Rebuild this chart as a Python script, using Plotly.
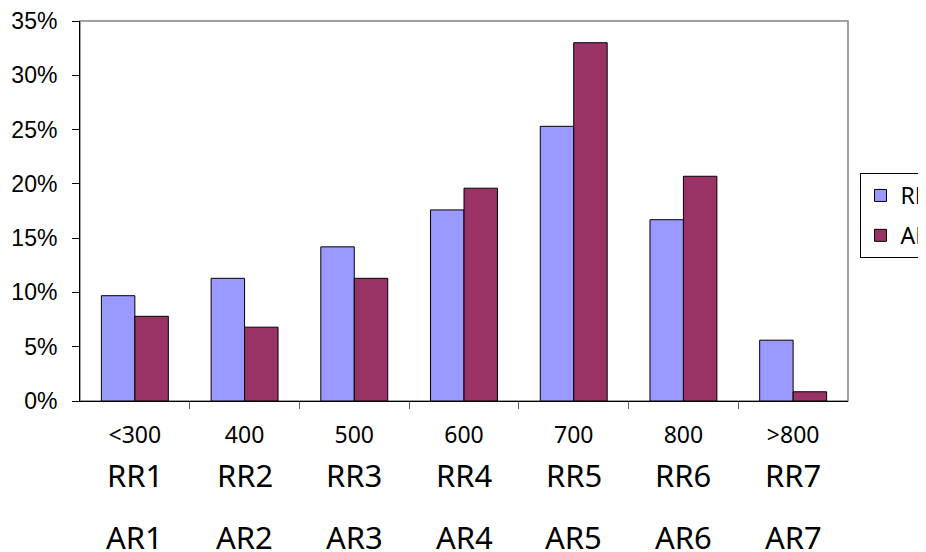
import plotly.graph_objects as go

categories = ["<300", "400", "500", "600", "700", "800", ">800"]
rr_values = [9.7, 11.3, 14.2, 17.6, 25.3, 16.7, 5.6]
ar_values = [7.8, 6.8, 11.3, 19.6, 33.0, 20.7, 0.85]
rr_labels = ["RR1", "RR2", "RR3", "RR4", "RR5", "RR6", "RR7"]
ar_labels = ["AR1", "AR2", "AR3", "AR4", "AR5", "AR6", "AR7"]

idx = list(range(len(categories)))
tick_text = [c.replace("<", "&lt;").replace(">", "&gt;") for c in categories]

fig = go.Figure()
fig.add_trace(go.Bar(x=idx, y=rr_values, name="RR", legendgroup="rr",
                     marker=dict(color="#9999FF", line=dict(color="black", width=1))))
fig.add_trace(go.Bar(x=idx, y=ar_values, name="AR", legendgroup="ar",
                     marker=dict(color="#993366", line=dict(color="black", width=1))))

annotations = []
for i, r, a in zip(idx, rr_labels, ar_labels):
    annotations.append(dict(x=i, y=0, xref="x", yref="paper", text=r, showarrow=False,
                            yanchor="middle", yshift=-74, font=dict(family="Noto Sans", size=31, color="black")))
    annotations.append(dict(x=i, y=0, xref="x", yref="paper", text=a, showarrow=False,
                            yanchor="middle", yshift=-136, font=dict(family="Noto Sans", size=31, color="black")))

fig.update_layout(
    width=926, height=544,
    margin=dict(l=72, r=86, t=13, b=151, autoexpand=False),
    paper_bgcolor="white", plot_bgcolor="white",
    barmode="group", bargap=0.39, bargroupgap=0,
    showlegend=True,
    legend=dict(x=1.015, y=0.6, xanchor="left", yanchor="top",
                bordercolor="black", borderwidth=1, tracegroupgap=7,
                font=dict(family="Noto Sans", size=23, color="black"),
                bgcolor="white"),
    annotations=annotations,
    shapes=[dict(type="rect", xref="paper", yref="paper", x0=0, x1=1, y0=0, y1=1,
                 line=dict(color="#808080", width=1.5), layer="below")],
)
fig.update_xaxes(range=[-0.5, len(categories) - 0.5], tickmode="array", tickvals=idx, ticktext=tick_text,
                 tickangle=0, showline=True, linecolor="black", linewidth=1, automargin=False,
                 ticks="", showgrid=False, zeroline=False, ticklabelstandoff=13,
                 tickfont=dict(family="Noto Sans", size=23, color="black"))
fig.update_xaxes(minor=dict(ticks="outside", ticklen=7, tickcolor="#606060", tickmode="array",
                            tickvals=[i + 0.5 for i in idx[:-1]], showgrid=False))
fig.update_yaxes(range=[0, 35], dtick=5, ticksuffix="%", showline=True, linecolor="black",
                 linewidth=1, ticks="outside", ticklen=7, tickcolor="black", automargin=False,
                 tickfont=dict(family="Liberation Sans", size=23, color="black"),
                 showgrid=False, zeroline=False, ticklabelstandoff=10)

fig.write_html("out.html")
